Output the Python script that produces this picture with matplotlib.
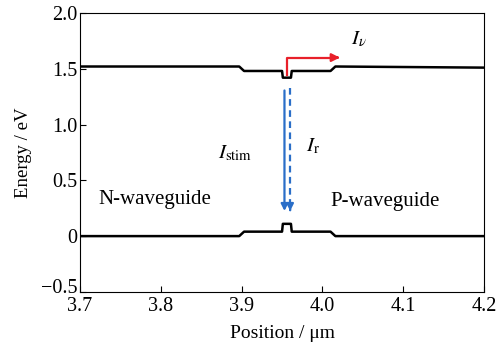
import matplotlib.pyplot as plt
import matplotlib.transforms as mtransforms

plt.rcParams['font.family'] = ['Liberation Serif', 'DejaVu Serif']
plt.rcParams['mathtext.fontset'] = 'stix'

# === DATA ===
pos = [3.70, 3.897, 3.903, 3.950, 3.951, 3.961, 3.962, 4.010, 4.016, 4.20]
e_cond = [1.52, 1.52, 1.48, 1.48, 1.42, 1.42, 1.48, 1.48, 1.52, 1.51]
e_val = [0.0, 0.0, 0.04, 0.04, 0.11, 0.11, 0.04, 0.04, 0.0, 0.0]

xticks = [3.7, 3.8, 3.9, 4.0, 4.1, 4.2]
xtick_labels = ['3.7', '3.8', '3.9', '4.0', '4.1', '4.2']
yticks = [-0.5, 0, 0.5, 1.0, 1.5, 2.0]
ytick_labels = ['\u22120.5', '0', '0.5', '1.0', '1.5', '2.0']

# arrows (x, y start, y end)
red_x, red_y0, red_y1, red_xend = 3.956, 1.44, 1.60, 4.025
stim_x, r_x, arr_y0, arr_y1 = 3.953, 3.960, 1.33, 0.20

fig, ax = plt.subplots(figsize=(4.97, 3.5), dpi=100)
fig.subplots_adjust(left=0.161, right=0.974, top=0.963, bottom=0.166)

ax.plot(pos, e_cond, color='black', lw=1.8)
ax.plot(pos, e_val, color='black', lw=1.8)

# red arrow (I_nu)
ax.plot([red_x, red_x, red_xend - 0.01], [red_y0, red_y1, red_y1], color='#e8202a', lw=1.6)
ax.annotate('', xy=(red_xend, red_y1), xytext=(red_xend - 0.012, red_y1),
            arrowprops=dict(arrowstyle='-|>', color='#e8202a', lw=1.6, mutation_scale=12))

# blue arrows (I_stim solid, I_r dashed)
ax.annotate('', xy=(stim_x, arr_y1), xytext=(stim_x, arr_y0),
            arrowprops=dict(arrowstyle='-|>', color='#2a6ec8', lw=1.6, mutation_scale=10))
ax.plot([r_x, r_x], [arr_y0, arr_y1 + 0.06], color='#2a6ec8', lw=1.6, ls=(0, (3, 2)))
ax.annotate('', xy=(r_x, arr_y1), xytext=(r_x, arr_y1 + 0.06),
            arrowprops=dict(arrowstyle='-|>', color='#2a6ec8', lw=1.6, mutation_scale=10))

ax.text(3.892, 0.74, r'$I_{\mathrm{stim}}$', fontsize=15, ha='center', va='center')
ax.text(3.988, 0.80, r'$I_{\mathrm{r}}$', fontsize=15, ha='center', va='center')
ax.text(4.045, 1.76, r'$I_{\nu}$', fontsize=15, ha='center', va='center')
ax.text(3.793, 0.33, 'N-waveguide', fontsize=15, ha='center', va='center')
ax.text(4.078, 0.31, 'P-waveguide', fontsize=15, ha='center', va='center')

ax.set_xlim(3.7, 4.2)
ax.set_ylim(-0.5, 2.0)
ax.set_xticks(xticks)
ax.set_xticklabels(xtick_labels)
ax.set_yticks(yticks)
ax.set_yticklabels(ytick_labels)
ax.tick_params(direction='in', labelsize=14.5, length=4, width=0.8, pad=2)
ax.tick_params(axis='x', pad=4)
ax.set_xlabel('Position / \u03bcm', fontsize=14, labelpad=6)
ax.set_ylabel('Energy / eV', fontsize=13.5, labelpad=6)

# nudge the bottom y label up a little so it clears 3.7
lab = ax.get_yticklabels()[0]
lab.set_transform(lab.get_transform() + mtransforms.ScaledTranslation(0, 4 / 72, fig.dpi_scale_trans))

plt.savefig('out.png', dpi=100)
